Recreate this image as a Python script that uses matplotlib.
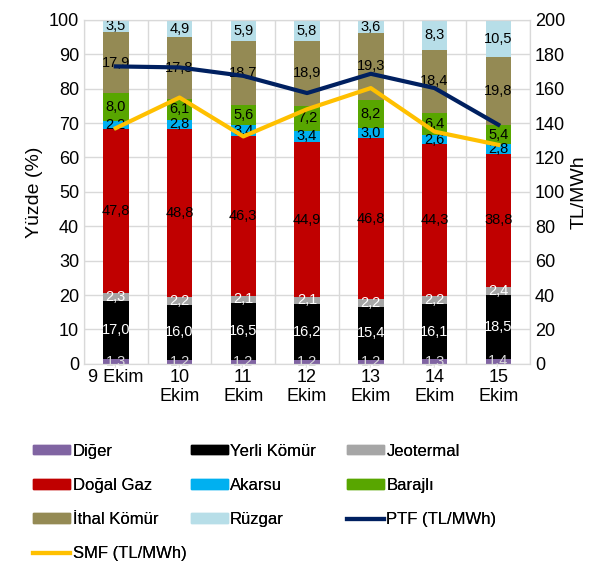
import numpy as np
import matplotlib.pyplot as plt
from matplotlib.patches import Patch
from matplotlib.lines import Line2D

plt.rcParams['font.family'] = ['Liberation Sans', 'DejaVu Sans']

days = ['9 Ekim', '10\nEkim', '11\nEkim', '12\nEkim', '13\nEkim', '14\nEkim', '15\nEkim']

sources = ['Diğer', 'Yerli Kömür', 'Jeotermal', 'Doğal Gaz', 'Akarsu', 'Barajlı', 'İthal Kömür', 'Rüzgar']
diger = [1.3, 1.2, 1.2, 1.2, 1.2, 1.3, 1.4]
yerli = [17.0, 16.0, 16.5, 16.2, 15.4, 16.1, 18.5]
jeotermal = [2.3, 2.2, 2.1, 2.1, 2.2, 2.2, 2.4]
dogalgaz = [47.8, 48.8, 46.3, 44.9, 46.8, 44.3, 38.8]
akarsu = [2.2, 2.8, 3.4, 3.4, 3.0, 2.6, 2.8]
barajli = [8.0, 6.1, 5.6, 7.2, 8.2, 6.4, 5.4]
ithal = [17.9, 17.8, 18.7, 18.9, 19.3, 18.4, 19.8]
ruzgar = [3.5, 4.9, 5.9, 5.8, 3.6, 8.3, 10.5]

ptf = [172.9, 172.3, 167.4, 157.4, 168.6, 160.3, 139.0]
smf = [137.0, 154.8, 132.2, 148.0, 160.3, 135.0, 127.3]

colors = ['#8064A2', '#000000', '#A6A6A6', '#C00000', '#00B0F0', '#58A600', '#948A54', '#B7DEE8']
label_colors = ['#D9D9D9', 'white', 'white', 'black', 'black', 'black', 'black', 'black']

fig = plt.figure(figsize=(6.08, 5.65), dpi=100)
ax = fig.add_axes([0.138, 0.356, 0.734, 0.609])
ax2 = ax.twinx()

x = np.arange(len(days))
bottom = np.zeros(len(days))
series = [diger, yerli, jeotermal, dogalgaz, akarsu, barajli, ithal, ruzgar]
for vals, c, lc in zip(series, colors, label_colors):
    vals = np.array(vals)
    ax.bar(x, vals, 0.4, bottom=bottom, color=c, zorder=2)
    for xi, b, v in zip(x, bottom, vals):
        ax.text(xi, b + v / 2, f'{v:.1f}'.replace('.', ','), ha='center', va='center',
                fontsize=10.5, color=lc, zorder=5)
    bottom += vals

ax2.plot(x, ptf, color='#002060', lw=3, zorder=4)
ax2.plot(x, smf, color='#FFC000', lw=3, zorder=4)

ax.set_xlim(-0.5, len(days) - 0.5)
ax.set_ylim(0, 100)
ax.set_yticks(range(0, 101, 10))
ax2.set_ylim(0, 200)
ax2.set_yticks(range(0, 201, 20))
ax.set_xticks(x)
ax.set_xticklabels(days)
ax.set_xticks(np.arange(-0.5, len(days), 1), minor=True)
ax.grid(True, which='major', axis='y', color='#D9D9D9', lw=1, zorder=0)
ax.grid(True, which='minor', axis='x', color='#D9D9D9', lw=1, zorder=0)
ax.tick_params(which='both', length=0, labelsize=13)
ax2.tick_params(length=0, labelsize=13)
for a in (ax, ax2):
    for s in a.spines.values():
        s.set_color('#D9D9D9')
ax.set_ylabel('Yüzde (%)', fontsize=14)
ax2.set_ylabel('TL/MWh', fontsize=14)

handles = [Patch(color=c, label=s) for c, s in zip(colors, sources)]
handles.append(Line2D([], [], color='#002060', lw=3, label='PTF (TL/MWh)'))
handles.append(Line2D([], [], color='#FFC000', lw=3, label='SMF (TL/MWh)'))

# Excel-style legend: three equally spaced columns, filled row by row
columns = [[0, 3, 6, 9], [1, 4, 7], [2, 5, 8]]
col_x = [0.055, 0.314, 0.571]
for idx, cx in zip(columns, col_x):
    leg = fig.legend([handles[i] for i in idx], [handles[i].get_label() for i in idx],
                     loc='upper left', bbox_to_anchor=(cx, 0.215), frameon=False,
                     fontsize=12, handlelength=2.2, handleheight=0.5,
                     labelspacing=1.15, handletextpad=0.15, borderpad=0, borderaxespad=0)
    fig.add_artist(leg)

fig.savefig('out.png', dpi=100)
